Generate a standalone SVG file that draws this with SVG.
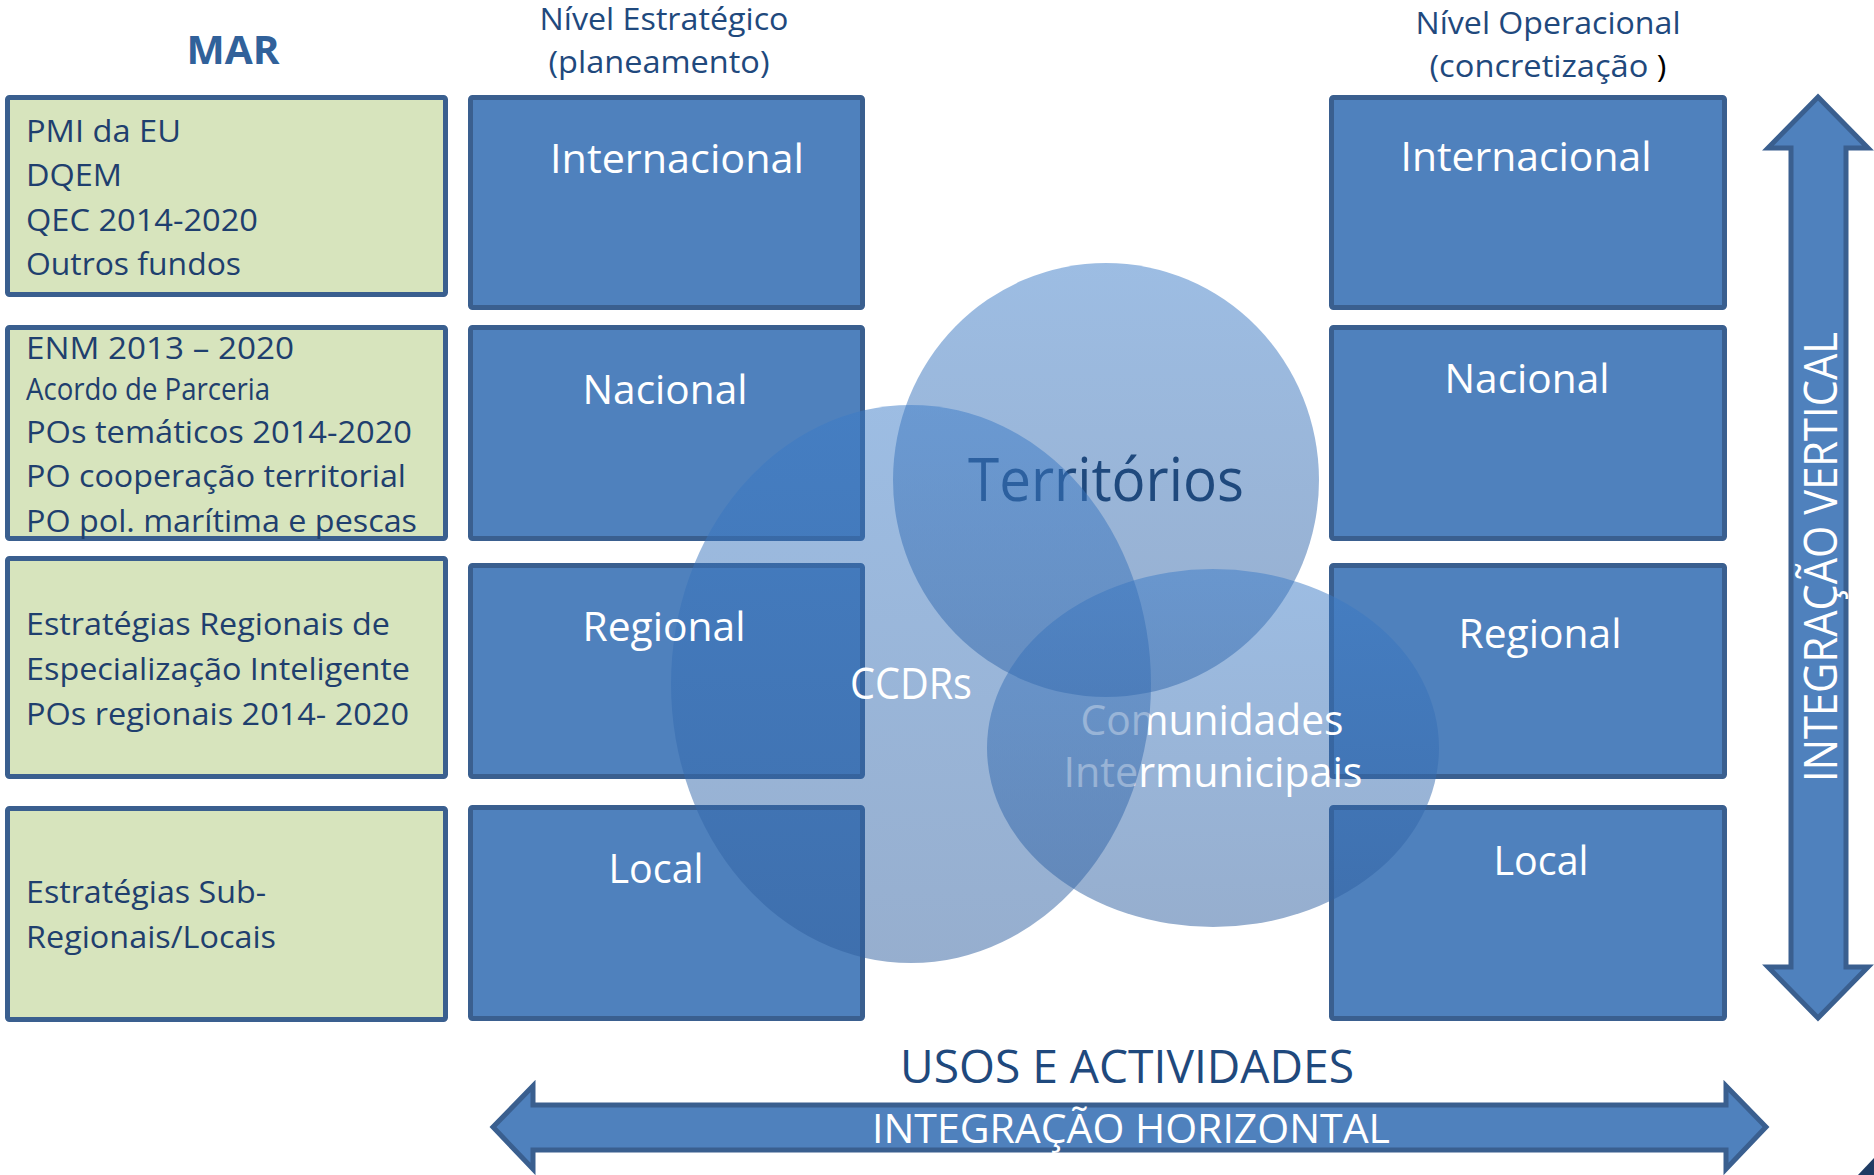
<svg xmlns="http://www.w3.org/2000/svg" width="1874" height="1175" viewBox="0 0 1874 1175">
<style>
.t{font-family:"Open Sans","Liberation Sans",sans-serif}
.g{fill:#d7e4bd;stroke:#3a5f8f;stroke-width:5}
.b{fill:#4f81bd;stroke:#3a5f8f;stroke-width:5}
.gt{font-size:31px;fill:#1f3f6e}
.bl{font-size:41px;fill:#ffffff;text-anchor:middle}
.hd{font-size:31px;fill:#1f497d;text-anchor:middle}
.c{fill:url(#cg);fill-opacity:0.5}
.arr{fill:#4f81bd;stroke:#3a5f8f;stroke-width:5;stroke-linejoin:miter}
</style>
<defs>
<linearGradient id="cg" x1="0" y1="0" x2="0" y2="1">
<stop offset="0" stop-color="#3b7bc7"/>
<stop offset="1" stop-color="#2e5e9e"/>
</linearGradient>
</defs>
<rect width="1874" height="1175" fill="#ffffff"/>

<g id="headers">
<text class="t" x="233" y="64" font-size="39" font-weight="bold" fill="#31619a" text-anchor="middle" textLength="93" lengthAdjust="spacingAndGlyphs">MAR</text>
<text class="t hd" x="664" y="30" textLength="249" lengthAdjust="spacingAndGlyphs">Nível Estratégico</text>
<text class="t hd" x="659" y="73" textLength="221" lengthAdjust="spacingAndGlyphs">(planeamento)</text>
<text class="t hd" x="1548" y="34" textLength="265" lengthAdjust="spacingAndGlyphs">Nível Operacional</text>
<text class="t hd" x="1548" y="77" textLength="237" lengthAdjust="spacingAndGlyphs">(concretização <tspan fill="#000000">)</tspan></text>
</g>

<g id="mar1">
<rect class="g" x="7.5" y="97.5" width="438" height="197" rx="2"/>
<text class="t gt" x="26" y="142" textLength="155" lengthAdjust="spacingAndGlyphs">PMI da EU</text>
<text class="t gt" x="26" y="186" textLength="96" lengthAdjust="spacingAndGlyphs">DQEM</text>
<text class="t gt" x="26" y="231" textLength="232" lengthAdjust="spacingAndGlyphs">QEC 2014-2020</text>
<text class="t gt" x="26" y="275" textLength="215" lengthAdjust="spacingAndGlyphs">Outros fundos</text>
</g>
<g id="mar2">
<rect class="g" x="7.5" y="327.5" width="438" height="211" rx="2"/>
<text class="t gt" x="26" y="359" textLength="268" lengthAdjust="spacingAndGlyphs">ENM 2013 – 2020</text>
<text class="t gt" x="26" y="400" font-size="27" textLength="244" lengthAdjust="spacingAndGlyphs">Acordo de Parceria</text>
<text class="t gt" x="26" y="443" textLength="386" lengthAdjust="spacingAndGlyphs">POs temáticos 2014-2020</text>
<text class="t gt" x="26" y="487" textLength="380" lengthAdjust="spacingAndGlyphs">PO cooperação territorial</text>
<text class="t gt" x="26" y="532" textLength="391" lengthAdjust="spacingAndGlyphs">PO pol. marítima e pescas</text>
</g>
<g id="mar3">
<rect class="g" x="7.5" y="558.5" width="438" height="218" rx="2"/>
<text class="t gt" x="26" y="635" textLength="364" lengthAdjust="spacingAndGlyphs">Estratégias Regionais de</text>
<text class="t gt" x="26" y="680" textLength="384" lengthAdjust="spacingAndGlyphs">Especialização Inteligente</text>
<text class="t gt" x="26" y="725" textLength="383" lengthAdjust="spacingAndGlyphs">POs regionais 2014- 2020</text>
</g>
<g id="mar4">
<rect class="g" x="7.5" y="808.5" width="438" height="211" rx="2"/>
<text class="t gt" x="26" y="903" textLength="240" lengthAdjust="spacingAndGlyphs">Estratégias Sub-</text>
<text class="t gt" x="26" y="948" textLength="250" lengthAdjust="spacingAndGlyphs">Regionais/Locais</text>
</g>

<g id="level-boxes">
<rect id="est-internacional" class="b" x="470.5" y="97.5" width="392" height="210" rx="2"/>
<rect id="est-nacional" class="b" x="470.5" y="327.5" width="392" height="211" rx="2"/>
<rect id="est-regional" class="b" x="470.5" y="565.5" width="392" height="211" rx="2"/>
<rect id="est-local" class="b" x="470.5" y="807.5" width="392" height="211" rx="2"/>
<rect id="op-internacional" class="b" x="1331.5" y="97.5" width="393" height="210" rx="2"/>
<rect id="op-nacional" class="b" x="1331.5" y="327.5" width="393" height="211" rx="2"/>
<rect id="op-regional" class="b" x="1331.5" y="565.5" width="393" height="211" rx="2"/>
<rect id="op-local" class="b" x="1331.5" y="807.5" width="393" height="211" rx="2"/>
</g>

<g id="territorios">
<ellipse class="c" cx="1106" cy="480" rx="213" ry="217"/>
<text class="t" x="1106" y="501" font-size="60" fill="#1f497d" text-anchor="middle" textLength="276" lengthAdjust="spacingAndGlyphs">Territórios</text>
</g>
<g id="comunidades">
<ellipse class="c" cx="1213" cy="748" rx="226" ry="179"/>
<text class="t" x="1212" y="735" font-size="42" fill="#ffffff" text-anchor="middle" textLength="263" lengthAdjust="spacingAndGlyphs">Comunidades</text>
<text class="t" x="1213" y="787" font-size="42" fill="#ffffff" text-anchor="middle" textLength="299" lengthAdjust="spacingAndGlyphs">Intermunicipais</text>
</g>
<g id="ccdrs">
<ellipse class="c" cx="911" cy="684" rx="240" ry="279"/>
<text class="t" x="911" y="699" font-size="43" fill="#ffffff" text-anchor="middle" textLength="122" lengthAdjust="spacingAndGlyphs">CCDRs</text>
</g>

<g id="level-labels">
<text class="t bl" x="677" y="173" textLength="254" lengthAdjust="spacingAndGlyphs">Internacional</text>
<text class="t bl" x="665" y="404" textLength="165" lengthAdjust="spacingAndGlyphs">Nacional</text>
<text class="t bl" x="664" y="641" textLength="163" lengthAdjust="spacingAndGlyphs">Regional</text>
<text class="t bl" x="656" y="883" textLength="95" lengthAdjust="spacingAndGlyphs">Local</text>
<text class="t bl" x="1526" y="171" textLength="251" lengthAdjust="spacingAndGlyphs">Internacional</text>
<text class="t bl" x="1527" y="393" textLength="165" lengthAdjust="spacingAndGlyphs">Nacional</text>
<text class="t bl" x="1540" y="648" textLength="163" lengthAdjust="spacingAndGlyphs">Regional</text>
<text class="t bl" x="1541" y="875" textLength="95" lengthAdjust="spacingAndGlyphs">Local</text>
</g>

<g id="connectors">
<g id="integracao-vertical">
<polygon class="arr" points="1818,97 1868,148 1846,148 1846,967 1868,967 1818,1018 1768,967 1791,967 1791,148 1768,148"/>
<text class="t" transform="translate(1837,782) rotate(-90)" font-size="45" fill="#ffffff" textLength="450" lengthAdjust="spacingAndGlyphs">INTEGRAÇÃO VERTICAL</text>
</g>
<g id="integracao-horizontal">
<polygon class="arr" points="493,1127 533,1086 533,1105 1726,1105 1726,1086 1766,1127 1726,1169 1726,1150 533,1150 533,1169"/>
<text class="t" x="1131" y="1143" font-size="41" fill="#ffffff" text-anchor="middle" textLength="518" lengthAdjust="spacingAndGlyphs">INTEGRAÇÃO HORIZONTAL</text>
</g>
</g>

<g id="usos">
<text class="t" x="1127" y="1083" font-size="46" fill="#1f497d" text-anchor="middle" textLength="454" lengthAdjust="spacingAndGlyphs">USOS E ACTIVIDADES</text>
</g>

<polygon points="1858,1175 1874,1158 1874,1175" fill="#1f3c64"/>
</svg>
